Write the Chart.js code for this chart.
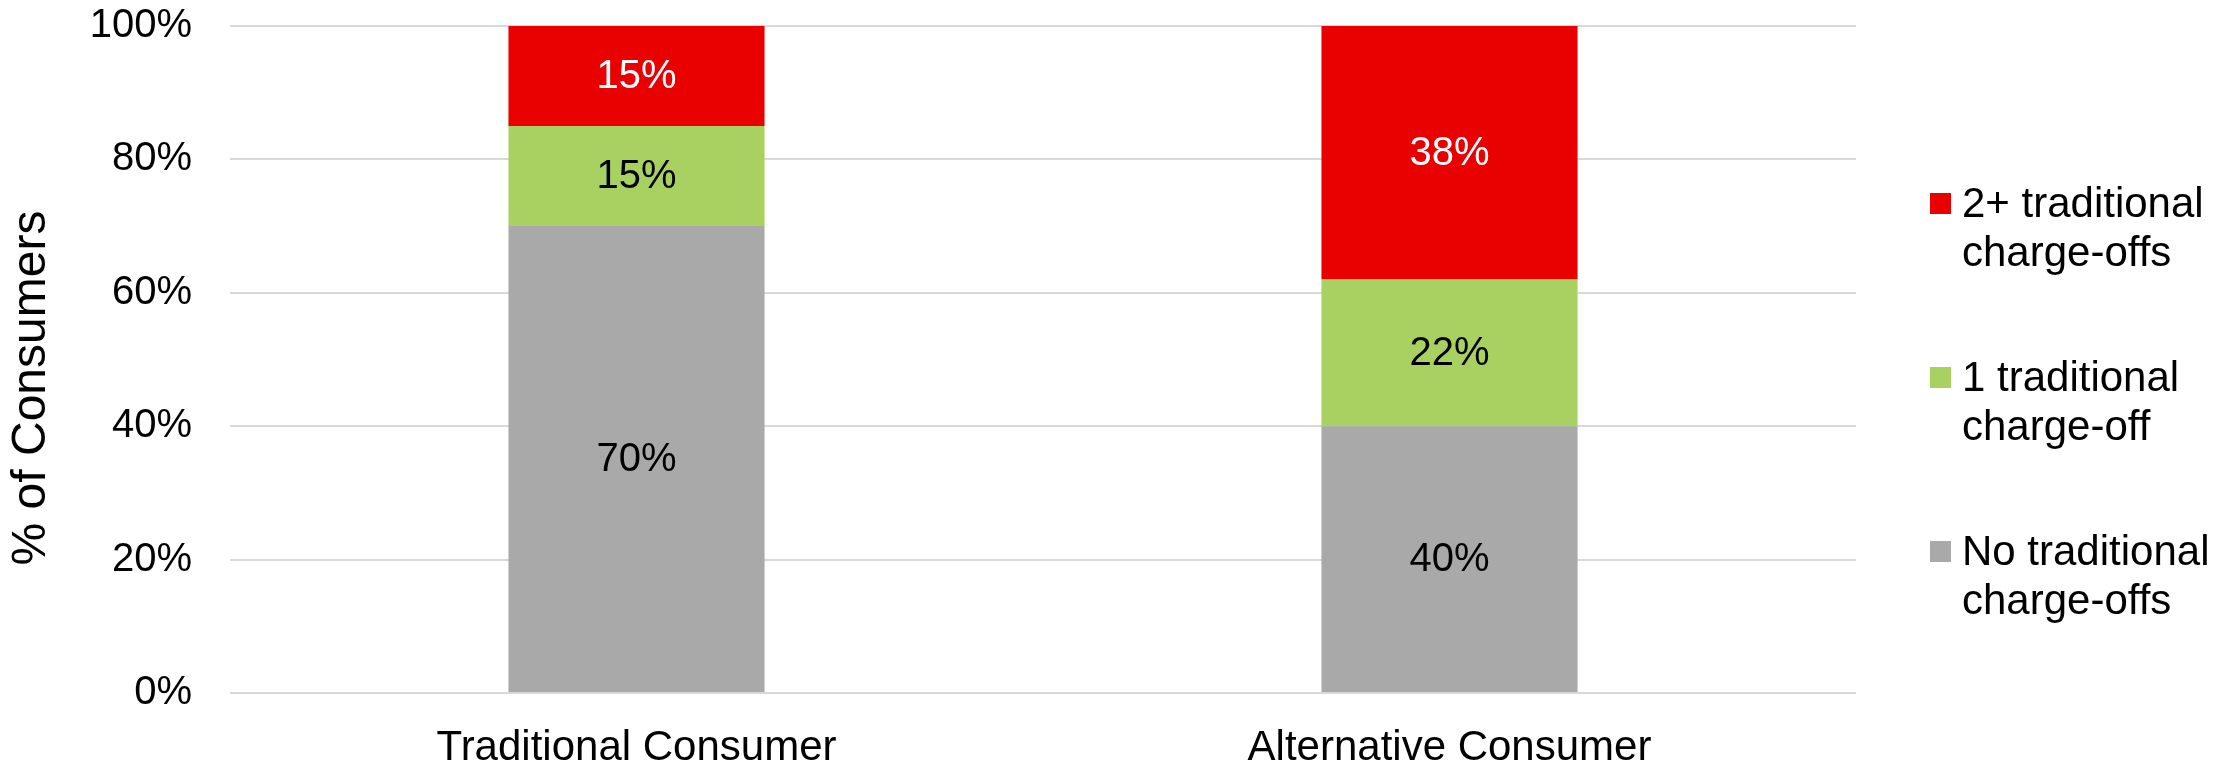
<!DOCTYPE html>
<html>
<head>
<meta charset="utf-8">
<script src="https://cdn.jsdelivr.net/npm/chart.js@4.4.1/dist/chart.umd.min.js"></script>
<style>
  html, body { margin: 0; padding: 0; background: #ffffff; }
  #wrap { width: 2233px; height: 760px; }
</style>
</head>
<body>
<div id="wrap"><canvas id="chart" width="2233" height="760"></canvas></div>
<script>
// Share of consumers by number of traditional charge-offs
const categories = ['Traditional Consumer', 'Alternative Consumer'];
const seriesNames = ['No traditional charge-offs', '1 traditional charge-off', '2+ traditional charge-offs'];
const noChargeOffs = [70, 40];
const oneChargeOff = [15, 22];
const twoPlusChargeOffs = [15, 38];
const yTicks = [0, 20, 40, 60, 80, 100];
const yTitle = '% of Consumers';

const seriesColors = ['#A9A9A9', '#A9D162', '#E90000'];
const valueLabelColors = ['#000000', '#000000', '#FFFFFF'];
const FONT = "'Liberation Sans', Arial, sans-serif";

// Percentage labels centred inside each stacked segment
const segmentLabels = {
  id: 'segmentLabels',
  afterDatasetsDraw(chart) {
    const ctx = chart.ctx;
    ctx.save();
    ctx.font = '40px ' + FONT;
    ctx.textAlign = 'center';
    ctx.textBaseline = 'middle';
    chart.data.datasets.forEach((ds, di) => {
      const meta = chart.getDatasetMeta(di);
      meta.data.forEach((bar, i) => {
        const p = bar.getProps(['x', 'y', 'base'], true);
        ctx.fillStyle = valueLabelColors[di];
        ctx.fillText(ds.data[i] + '%', p.x, (p.y + p.base) / 2 + 1);
      });
    });
    ctx.restore();
  }
};

// Rotated y-axis title
const yAxisTitle = {
  id: 'yAxisTitle',
  afterDraw(chart) {
    const ctx = chart.ctx;
    ctx.save();
    ctx.translate(32, 388);
    ctx.rotate(-Math.PI / 2);
    ctx.font = '48px ' + FONT;
    ctx.fillStyle = '#000000';
    ctx.textAlign = 'center';
    ctx.textBaseline = 'middle';
    ctx.fillText(yTitle, 0, 0);
    ctx.restore();
  }
};

// Legend on the right, top series first, with wrapped labels
const sideLegend = {
  id: 'sideLegend',
  afterDraw(chart) {
    const ctx = chart.ctx;
    const boxX = 1930, box = 21, textX = 1962, maxW = 262;
    const firstBaseline = 217, itemStep = 174, lineStep = 49;
    ctx.save();
    ctx.font = '42px ' + FONT;
    ctx.textAlign = 'left';
    ctx.textBaseline = 'alphabetic';
    const order = chart.data.datasets.map((d, i) => i).reverse();
    order.forEach((di, k) => {
      const ds = chart.data.datasets[di];
      const words = ds.label.split(' ');
      const lines = [];
      let cur = '';
      words.forEach(w => {
        const test = cur ? cur + ' ' + w : w;
        if (cur && ctx.measureText(test).width > maxW) { lines.push(cur); cur = w; }
        else cur = test;
      });
      if (cur) lines.push(cur);
      const base = firstBaseline + k * itemStep;
      ctx.fillStyle = ds.backgroundColor;
      ctx.fillRect(boxX, base - 24, box, box);
      ctx.fillStyle = '#000000';
      lines.forEach((ln, li) => ctx.fillText(ln, textX, base + li * lineStep));
    });
    ctx.restore();
  }
};

const seriesValues = [noChargeOffs, oneChargeOff, twoPlusChargeOffs];

new Chart(document.getElementById('chart'), {
  type: 'bar',
  data: {
    labels: categories,
    datasets: seriesValues.map((vals, i) => ({
      label: seriesNames[i],
      data: vals,
      backgroundColor: seriesColors[i],
      borderWidth: 0,
      barPercentage: 0.315,
      categoryPercentage: 1
    }))
  },
  options: {
    responsive: false,
    animation: false,
    devicePixelRatio: 1,
    layout: { padding: { top: 26, right: 377, left: 0, bottom: 0 } },
    plugins: {
      legend: { display: false },
      tooltip: { enabled: false },
      title: { display: false }
    },
    scales: {
      x: {
        stacked: true,
        grid: { display: false, drawTicks: false },
        border: { display: false },
        ticks: {
          color: '#000000',
          font: { family: FONT, size: 42 },
          padding: 30,
          maxRotation: 0,
          autoSkip: false
        },
        afterFit(scale) {
          scale.height = 67;
          scale.paddingLeft = 0; scale.paddingRight = 0;
        }
      },
      y: {
        stacked: true,
        min: 0,
        max: 100,
        grid: { color: '#D9D9D9', lineWidth: 2, drawTicks: false },
        border: { display: false },
        ticks: {
          color: '#000000',
          font: { family: FONT, size: 40 },
          padding: 38,
          callback: v => v + '%'
        },
        afterBuildTicks(scale) { scale.ticks = yTicks.map(v => ({ value: v })); },
        afterFit(scale) {
          scale.width = 230;
          scale.paddingTop = 0; scale.paddingBottom = 0;
        }
      }
    }
  },
  plugins: [segmentLabels, yAxisTitle, sideLegend]
});
</script>
</body>
</html>
